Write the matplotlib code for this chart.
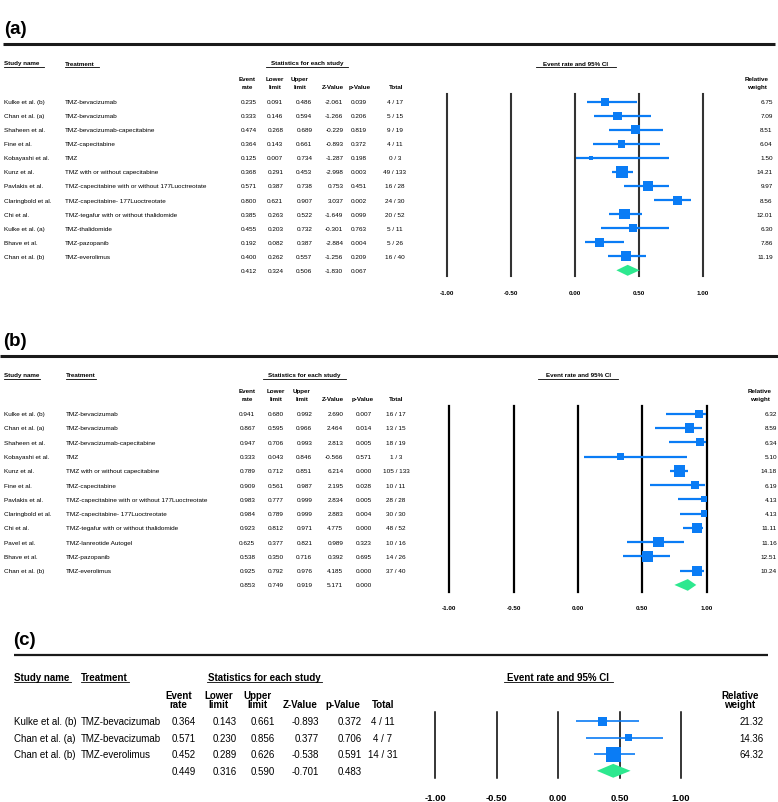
import matplotlib.pyplot as plt
import matplotlib.transforms as mtransforms

plt.rcParams['font.family'] = ['Liberation Sans', 'DejaVu Sans']

W, H = 778, 803
BLUE = '#0a7cf5'
GREEN = '#2de88f'

# ---- panel (a) data
study_a = ["Kulke et al. (b)", "Chan et al. (a)", "Shaheen et al.", "Fine et al.", "Kobayashi et al.",
           "Kunz et al.", "Pavlakis et al.", "Claringbold et al.", "Chi et al.", "Kulke et al. (a)",
           "Bhave et al.", "Chan et al. (b)"]
treat_a = ["TMZ-bevacizumab", "TMZ-bevacizumab", "TMZ-bevacizumab-capecitabine", "TMZ-capecitabine", "TMZ",
           "TMZ with or without capecitabine", "TMZ-capecitabine with or without 177Luoctreotate",
           "TMZ-capecitabine- 177Luoctreotate", "TMZ-tegafur with or without thalidomide", "TMZ-thalidomide",
           "TMZ-pazopanib", "TMZ-everolimus"]
rate_a = [0.235, 0.333, 0.474, 0.364, 0.125, 0.368, 0.571, 0.800, 0.385, 0.455, 0.192, 0.400]
lower_a = [0.091, 0.146, 0.268, 0.143, 0.007, 0.291, 0.387, 0.621, 0.263, 0.203, 0.082, 0.262]
upper_a = [0.486, 0.594, 0.689, 0.661, 0.734, 0.453, 0.738, 0.907, 0.522, 0.732, 0.387, 0.557]
z_a = [-2.061, -1.266, -0.229, -0.893, -1.287, -2.998, 0.753, 3.037, -1.649, -0.301, -2.884, -1.256]
p_a = [0.039, 0.206, 0.819, 0.372, 0.198, 0.003, 0.451, 0.002, 0.099, 0.763, 0.004, 0.209]
total_a = ["4 / 17", "5 / 15", "9 / 19", "4 / 11", "0 / 3", "49 / 133", "16 / 28", "24 / 30", "20 / 52",
           "5 / 11", "5 / 26", "16 / 40"]
weight_a = [6.75, 7.09, 8.51, 6.04, 1.50, 14.21, 9.97, 8.56, 12.01, 6.30, 7.86, 11.19]
summary_a = [0.412, 0.324, 0.506, -1.830, 0.067]

# ---- panel (b) data
study_b = ["Kulke et al. (b)", "Chan et al. (a)", "Shaheen et al.", "Kobayashi et al.", "Kunz et al.",
           "Fine et al.", "Pavlakis et al.", "Claringbold et al.", "Chi et al.", "Pavel et al.",
           "Bhave et al.", "Chan et al. (b)"]
treat_b = ["TMZ-bevacizumab", "TMZ-bevacizumab", "TMZ-bevacizumab-capecitabine", "TMZ",
           "TMZ with or without capecitabine", "TMZ-capecitabine",
           "TMZ-capecitabine with or without 177Luoctreotate", "TMZ-capecitabine- 177Luoctreotate",
           "TMZ-tegafur with or without thalidomide", "TMZ-lanreotide Autogel", "TMZ-pazopanib",
           "TMZ-everolimus"]
rate_b = [0.941, 0.867, 0.947, 0.333, 0.789, 0.909, 0.983, 0.984, 0.923, 0.625, 0.538, 0.925]
lower_b = [0.680, 0.595, 0.706, 0.043, 0.712, 0.561, 0.777, 0.789, 0.812, 0.377, 0.350, 0.792]
upper_b = [0.992, 0.966, 0.993, 0.846, 0.851, 0.987, 0.999, 0.999, 0.971, 0.821, 0.716, 0.976]
z_b = [2.690, 2.464, 2.813, -0.566, 6.214, 2.195, 2.834, 2.883, 4.775, 0.989, 0.392, 4.185]
p_b = [0.007, 0.014, 0.005, 0.571, 0.000, 0.028, 0.005, 0.004, 0.000, 0.323, 0.695, 0.000]
total_b = ["16 / 17", "13 / 15", "18 / 19", "1 / 3", "105 / 133", "10 / 11", "28 / 28", "30 / 30",
           "48 / 52", "10 / 16", "14 / 26", "37 / 40"]
weight_b = [6.32, 8.59, 6.34, 5.10, 14.18, 6.19, 4.13, 4.13, 11.11, 11.16, 12.51, 10.24]
summary_b = [0.853, 0.749, 0.919, 5.171, 0.000]

# ---- panel (c) data
study_c = ["Kulke et al. (b)", "Chan et al. (a)", "Chan et al. (b)"]
treat_c = ["TMZ-bevacizumab", "TMZ-bevacizumab", "TMZ-everolimus"]
rate_c = [0.364, 0.571, 0.452]
lower_c = [0.143, 0.230, 0.289]
upper_c = [0.661, 0.856, 0.626]
z_c = [-0.893, 0.377, -0.538]
p_c = [0.372, 0.706, 0.591]
total_c = ["4 / 11", "4 / 7", "14 / 31"]
weight_c = [21.32, 14.36, 64.32]
summary_c = [0.449, 0.316, 0.590, -0.701, 0.483]

ticks = [-1.0, -0.5, 0.0, 0.5, 1.0]
col_top = ["Event", "Lower", "Upper", "", "", ""]
col_bot = ["rate", "limit", "limit", "Z-Value", "p-Value", "Total"]

# layouts in pixels
lay_a = dict(title_x=4, title_y=29, rule_x=(3, 775), rule_y=45, rule_lw=2.2,
             head_y=64, ul_off=4.3, col_y=(79.3, 87.3), row0=102.7, dy=14.05,
             vtop=95, vbot=277, xm1=446.7, xp1=703, tick_pad=10.4, tick_fs=4.5,
             fs=4.6, hfs=4.5, study_x=4, treat_x=65,
             ul_study=(4, 44), ul_treat=(65, 99.3), stats_x=307.5, ul_stats=(265.7, 348.3),
             head_cx=[247.5, 275.3, 300, 333, 359.7, 395.8],
             val_x=[256.7, 283.3, 312.3, 343.3, 366.7], tot_x=395,
             ci_x=575.7, ul_ci=(536, 616), rw_x=756.5, w_x=772.7,
             vcol='#333333', vlw=1.5, ci_lw=1.6, msize=4.98, dh=0.39)
lay_b = dict(title_x=3, title_y=342, rule_x=(0, 778), rule_y=357, rule_lw=2.2,
             head_y=376, ul_off=4.3, col_y=(391.7, 399.3), row0=414.7, dy=14.27,
             vtop=407, vbot=592.7, xm1=449.3, xp1=706.7, tick_pad=9.9, tick_fs=4.5,
             fs=4.6, hfs=4.5, study_x=4, treat_x=66,
             ul_study=(4, 40), ul_treat=(66, 96), stats_x=304, ul_stats=(263.3, 346),
             head_cx=[247, 275.7, 302, 333.3, 362.5, 396.5],
             val_x=[255.3, 283.7, 312.3, 343.3, 371.7], tot_x=396,
             ci_x=578.3, ul_ci=(538, 618), rw_x=760, w_x=777,
             vcol='black', vlw=1.6, ci_lw=1.6, msize=4.98, dh=0.41)
lay_c = dict(title_x=13, title_y=641, rule_x=(14, 768), rule_y=656, rule_lw=1.6,
             head_y=678, ul_off=4.8, col_y=(696, 705), row0=722.3, dy=16.5,
             vtop=713, vbot=779, xm1=435, xp1=681, tick_pad=10.5, tick_fs=6.8,
             fs=7.0, hfs=7.0, study_x=14, treat_x=81,
             ul_study=(14, 71), ul_treat=(81, 129), stats_x=264, ul_stats=(206.7, 321.7),
             head_cx=[178.7, 218.3, 257.3, 300, 343.3, 383.3],
             val_x=[196, 236.7, 275, 319, 361.7], tot_x=383,
             ci_x=558, ul_ci=(504, 612.7), rw_x=740, w_x=763.3,
             vcol='black', vlw=1.1, ci_lw=1.2, msize=1.87, dh=0.42)

fig = plt.figure(figsize=(W / 100, H / 100), dpi=100)
tax = fig.add_axes([0, 0, 1, 1])
tax.set_xlim(0, W)
tax.set_ylim(H, 0)
tax.axis('off')


def px_rect(l, t, r, b):
    return [l / W, 1 - b / H, (r - l) / W, (b - t) / H]


def panel(label, study, treat, rate, lo, hi, zval, pval, total, weight, summ, L):
    n = len(study)
    fs, hfs = L['fs'], L['hfs']

    # forest plot axes, x in event rate units, y in rows
    ax = fig.add_axes(px_rect(L['xm1'], L['vtop'], L['xp1'], L['vbot']))
    ax.set_xlim(-1, 1)
    ax.set_ylim((L['vbot'] - L['row0']) / L['dy'], (L['vtop'] - L['row0']) / L['dy'])
    ax.patch.set_alpha(0)
    for s in ax.spines.values():
        s.set_visible(False)
    ax.set_yticks([])
    ax.set_xticks(ticks)
    ax.set_xticklabels(['%.2f' % t for t in ticks], fontweight='bold', fontsize=L['tick_fs'])
    ax.tick_params(axis='x', length=0, pad=L['tick_pad'])
    for t in ticks:
        ax.axvline(t, color=L['vcol'], lw=L['vlw'], clip_on=False, zorder=1)
    rows = list(range(n))
    ax.hlines(rows, lo, hi, color=BLUE, lw=L['ci_lw'], zorder=2)
    ax.scatter(rate, rows, s=[L['msize'] * w for w in weight], marker='s', color=BLUE,
               linewidths=0, zorder=3)
    h = L['dh']
    ax.fill([summ[1], summ[0], summ[2], summ[0]], [n, n - h, n, n + h], color=GREEN,
            lw=0, zorder=3, clip_on=False)

    # title and rule
    tax.text(L['title_x'], L['title_y'], label, fontsize=13.5, fontweight='bold', va='center')
    tax.plot(L['rule_x'], [L['rule_y']] * 2, color='#1a1a1a', lw=L['rule_lw'],
             solid_capstyle='butt')

    # headers
    hy = L['head_y']
    uy = hy + L['ul_off']
    tax.text(L['study_x'], hy, "Study name", fontsize=hfs, fontweight='bold', va='center')
    tax.text(L['treat_x'], hy, "Treatment", fontsize=hfs, fontweight='bold', va='center')
    tax.text(L['stats_x'], hy, "Statistics for each study", fontsize=hfs, fontweight='bold',
             va='center', ha='center')
    tax.text(L['ci_x'], hy, "Event rate and 95% CI", fontsize=hfs, fontweight='bold',
             va='center', ha='center')
    for seg in [L['ul_study'], L['ul_treat'], L['ul_stats'], L['ul_ci']]:
        tax.plot(seg, [uy, uy], color='black', lw=0.6)

    y1, y2 = L['col_y']
    for k in range(6):
        if col_top[k]:
            tax.text(L['head_cx'][k], y1, col_top[k], fontsize=hfs, fontweight='bold',
                     ha='center', va='center')
        tax.text(L['head_cx'][k], y2, col_bot[k], fontsize=hfs, fontweight='bold',
                 ha='center', va='center')
    tax.text(L['rw_x'], y1, "Relative", fontsize=hfs, fontweight='bold', ha='center', va='center')
    tax.text(L['rw_x'], y2, "weight", fontsize=hfs, fontweight='bold', ha='center', va='center')

    # table rows tied to forest rows
    tr = mtransforms.blended_transform_factory(tax.transData, ax.transData)
    for i in range(n):
        tax.text(L['study_x'], i, study[i], transform=tr, fontsize=fs, va='center')
        tax.text(L['treat_x'], i, treat[i], transform=tr, fontsize=fs, va='center')
        vals = [rate[i], lo[i], hi[i], zval[i], pval[i]]
        for k, v in enumerate(vals):
            tax.text(L['val_x'][k], i, '%.3f' % v, transform=tr, fontsize=fs, va='center', ha='right')
        tax.text(L['tot_x'], i, total[i], transform=tr, fontsize=fs, va='center', ha='center')
        tax.text(L['w_x'], i, '%.2f' % weight[i], transform=tr, fontsize=fs, va='center', ha='right')
    for k, v in enumerate(summ):
        tax.text(L['val_x'][k], n, '%.3f' % v, transform=tr, fontsize=fs, va='center', ha='right')


panel("(a)", study_a, treat_a, rate_a, lower_a, upper_a, z_a, p_a, total_a, weight_a, summary_a, lay_a)
panel("(b)", study_b, treat_b, rate_b, lower_b, upper_b, z_b, p_b, total_b, weight_b, summary_b, lay_b)
panel("(c)", study_c, treat_c, rate_c, lower_c, upper_c, z_c, p_c, total_c, weight_c, summary_c, lay_c)

fig.savefig('out.png', dpi=100)
